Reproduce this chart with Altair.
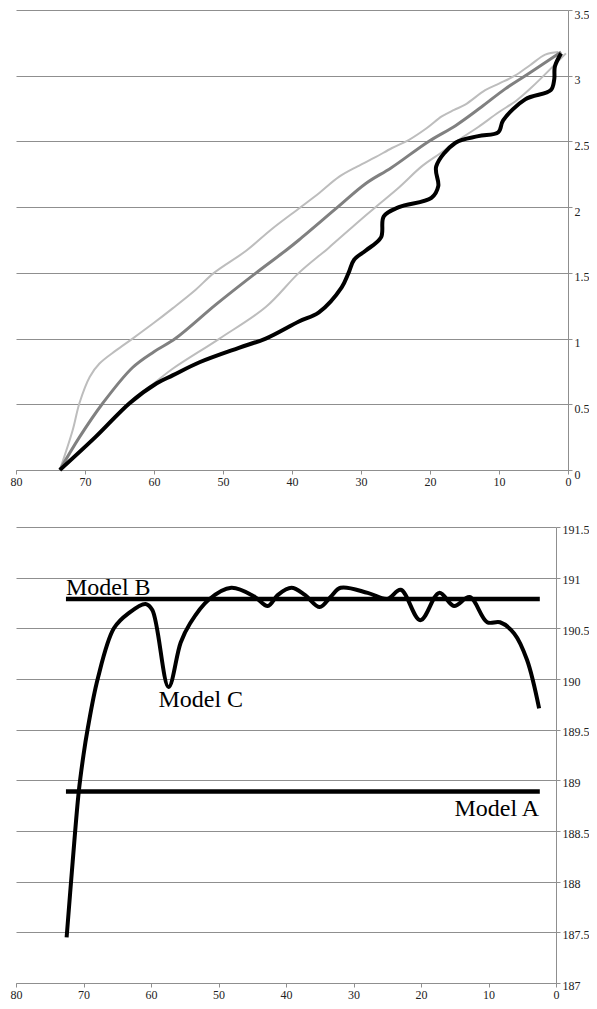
import altair as alt
import pandas as pd

# ---------------- top panel data ----------------
upper_x = [73.65, 71.8, 70.8, 69.3, 67.9, 65.5, 63.1, 60.0, 57.3, 54.0, 51.3, 46.6, 43.0, 39.0, 36.0, 33.2, 30.5, 27.9, 25.5, 23.1, 20.5, 18.3, 16.5, 14.9, 12.0, 10.0, 7.7, 5.5, 3.3, 1.4]
upper_y = [0.0, 0.3, 0.51, 0.71, 0.81, 0.91, 1.0, 1.12, 1.23, 1.37, 1.5, 1.67, 1.83, 1.99, 2.11, 2.23, 2.31, 2.38, 2.45, 2.51, 2.6, 2.69, 2.74, 2.78, 2.89, 2.94, 3.0, 3.08, 3.16, 3.18]

mid_x = [73.65, 70.8, 67.4, 63.1, 60.0, 56.9, 51.0, 45.2, 40.9, 39.0, 33.6, 29.3, 25.6, 20.2, 16.3, 12.6, 9.1, 5.3, 1.0]
mid_y = [0.0, 0.25, 0.51, 0.78, 0.9, 1.0, 1.26, 1.5, 1.67, 1.75, 1.99, 2.18, 2.3, 2.5, 2.62, 2.76, 2.9, 3.03, 3.18]

lower_x = [73.65, 68.5, 63.5, 60.0, 57.3, 50.5, 43.8, 39.0, 34.7, 31.0, 27.9, 24.5, 21.2, 18.5, 15.9, 13.0, 10.1, 7.5, 5.3, 0.3]
lower_y = [0.0, 0.25, 0.52, 0.66, 0.77, 1.0, 1.24, 1.5, 1.69, 1.86, 2.0, 2.15, 2.31, 2.41, 2.51, 2.61, 2.72, 2.81, 2.91, 3.17]

black_x = [73.65, 68.5, 63.5, 59.6, 57.3, 53.4, 47.7, 43.8, 39.0, 36.1, 32.8, 31.8, 31.0, 29.3, 27.1, 26.7, 24.5, 19.8, 18.8, 19.1, 16.3, 13.0, 10.1, 9.4, 6.2, 2.5, 2.0, 1.9, 1.0]
black_y = [0.0, 0.25, 0.51, 0.66, 0.72, 0.82, 0.93, 1.0, 1.13, 1.2, 1.39, 1.5, 1.6, 1.67, 1.77, 1.93, 2.0, 2.07, 2.16, 2.31, 2.49, 2.54, 2.57, 2.66, 2.82, 2.89, 2.97, 3.07, 3.17]

top_names = ["upper", "mid", "lower", "black"]
top_colors = ["#bdbdbd", "#808080", "#bdbdbd", "#000000"]
top_widths = [2, 3, 2, 4]

# ---------------- bottom panel data ----------------
c_x = [72.5, 71.6, 70.7, 70.0, 69.4, 67.9, 65.5, 63.3, 60.8, 59.8, 57.4, 55.6, 54.2, 51.5, 48.1, 44.6, 42.7, 41.2, 39.2, 37.2, 35.0, 33.4, 31.9, 27.9, 25.0, 23.0, 20.1, 17.3, 15.1, 12.8, 10.2, 8.3, 6.2, 4.3, 2.5]
c_y = [187.45, 188.2, 188.89, 189.25, 189.5, 190.0, 190.5, 190.65, 190.74, 190.68, 189.92, 190.36, 190.55, 190.78, 190.9, 190.81, 190.72, 190.83, 190.9, 190.83, 190.71, 190.81, 190.9, 190.85, 190.79, 190.88, 190.58, 190.85, 190.72, 190.81, 190.56, 190.56, 190.45, 190.19, 189.71]

model_a = 188.89
model_b = 190.79
model_x = [72.6, 2.4]

label_text = ["Model B", "Model C", "Model A"]
label_x = [72.6, 58.9, 2.5]
label_y = [190.83, 189.72, 188.65]
label_align = ["left", "left", "right"]

FONT = "Liberation Serif"
GRID = "#8f8f8f"
LABEL = "#222222"
NO_VIEW = alt.ViewBackground(stroke="#ffffff", strokeOpacity=0)


def make_df(names, xs_list, ys_list):
    rows = []
    for n, xs, ys in zip(names, xs_list, ys_list):
        for i, (x, y) in enumerate(zip(xs, ys)):
            rows.append({"series": n, "x": x, "y": y, "i": i})
    return pd.DataFrame(rows)


def x_axis():
    return alt.Axis(values=list(range(0, 81, 10)), grid=False, domainColor=GRID, tickColor=GRID,
                    tickSize=4, labelPadding=2, labelFontSize=12, labelFont=FONT, labelColor=LABEL,
                    title=None, labelFlush=False)


def y_axis(vals, offset):
    return alt.Axis(orient="right", values=vals, grid=True, gridColor=GRID, domainColor=GRID,
                    tickColor=GRID, tickSize=4, labelPadding=2, labelFontSize=12, labelFont=FONT,
                    labelColor=LABEL, title=None, labelFlush=False, format="~g", labelOffset=offset)


top_df = make_df(top_names, [upper_x, mid_x, lower_x, black_x], [upper_y, mid_y, lower_y, black_y])

top_x = alt.X("x:Q", scale=alt.Scale(domain=[0, 80], reverse=True, nice=False), axis=x_axis())
top_y = alt.Y("y:Q", scale=alt.Scale(domain=[0, 3.5], nice=False),
              axis=y_axis([0, 0.5, 1, 1.5, 2, 2.5, 3, 3.5], 4))

top_layers = []
for n, c, w in zip(top_names, top_colors, top_widths):
    top_layers.append(
        alt.Chart(top_df).transform_filter(alt.datum.series == n)
        .mark_line(color=c, strokeWidth=w, interpolate="catmull-rom")
        .encode(x=top_x, y=top_y, order="i:Q")
    )
top = alt.layer(*top_layers).properties(width=552, height=460, view=NO_VIEW)

# ---------------- bottom panel ----------------
c_df = pd.DataFrame({"x": c_x, "y": c_y, "i": list(range(len(c_x)))})
ab_df = pd.DataFrame({"model": ["A", "A", "B", "B"],
                      "x": model_x + model_x,
                      "y": [model_a, model_a, model_b, model_b]})
lab_df = pd.DataFrame({"text": label_text, "x": label_x, "y": label_y, "align": label_align})

bot_x = alt.X("x:Q", scale=alt.Scale(domain=[0, 80], reverse=True, nice=False), axis=x_axis())
bot_y = alt.Y("y:Q", scale=alt.Scale(domain=[187, 191.5], nice=False, zero=False),
              axis=y_axis([187, 187.5, 188, 188.5, 189, 189.5, 190, 190.5, 191, 191.5], 2))

c_line = alt.Chart(c_df).mark_line(color="black", strokeWidth=4, interpolate="catmull-rom").encode(
    x=bot_x, y=bot_y, order="i:Q")
ab_lines = alt.Chart(ab_df).mark_line(color="black", strokeWidth=4.5, strokeCap="butt").encode(
    x=bot_x, y=bot_y, detail="model:N")
lab_left = alt.Chart(lab_df).transform_filter(alt.datum.align == "left").mark_text(
    font=FONT, fontSize=24, align="left", baseline="alphabetic", color="black").encode(
    x=bot_x, y=bot_y, text="text:N")
lab_right = alt.Chart(lab_df).transform_filter(alt.datum.align == "right").mark_text(
    font=FONT, fontSize=24, align="right", baseline="alphabetic", color="black").encode(
    x=bot_x, y=bot_y, text="text:N")

bottom = alt.layer(c_line, ab_lines, lab_left, lab_right).properties(width=540, height=456, view=NO_VIEW)

chart = (
    alt.vconcat(top, bottom, spacing=57, bounds="flush")
    .properties(
        autosize=alt.AutoSizeParams(type="none"),
        padding={"left": 8, "top": 2, "right": 573, "bottom": 991},
    )
    .configure(font=FONT)
    .configure_view(stroke="#ffffff", strokeOpacity=0)
    .configure_axisX(grid=False)
)

chart.save("out.html", embed_options={"renderer": "svg", "actions": False})
